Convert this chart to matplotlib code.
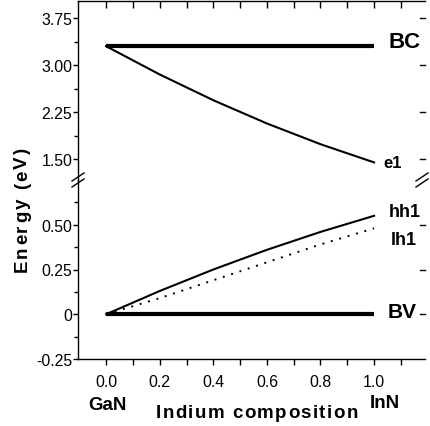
import matplotlib
matplotlib.use("Agg")
import matplotlib.pyplot as plt
from matplotlib.lines import Line2D
from matplotlib.ticker import FixedLocator, FixedFormatter
import numpy as np

plt.rcParams['font.family'] = ['Liberation Sans', 'DejaVu Sans']

# ---- data ----
x_comp = [0.0, 0.2, 0.4, 0.6, 0.8, 1.0]
bc = [3.30, 3.30, 3.30, 3.30, 3.30, 3.30]
e1 = [3.30, 2.85, 2.44, 2.07, 1.74, 1.45]
hh1 = [0.0, 0.13, 0.25, 0.36, 0.46, 0.55]
lh1 = [0.0, 0.09, 0.19, 0.29, 0.39, 0.48]
bv = [0.0, 0.0, 0.0, 0.0, 0.0, 0.0]

xticks = [0.0, 0.2, 0.4, 0.6, 0.8, 1.0]
xminor = [0.1, 0.3, 0.5, 0.7, 0.9, 1.1]
xticklabels = ['0.0', '0.2', '0.4', '0.6', '0.8', '1.0']
up_ticks = [1.50, 2.25, 3.00, 3.75]
up_labels = ['1.50', '2.25', '3.00', '3.75']
lo_ticks = [-0.25, 0.0, 0.25, 0.50]
lo_labels = ['-0.25', '0', '0.25', '0.50']

W, H = 430, 427
fig = plt.figure(figsize=(W / 100, H / 100), dpi=100)

def fx(px):
    return px / W

def fy(py):
    return 1 - py / H

L, R = 78, 425
T, M, B = 2, 181, 360
ax_up = fig.add_axes([fx(L), fy(M), fx(R) - fx(L), fy(T) - fy(M)])
ax_lo = fig.add_axes([fx(L), fy(B), fx(R) - fx(L), fy(M) - fy(B)])

for ax in (ax_up, ax_lo):
    ax.set_xlim(-0.105, 1.19)
    ax.spines['right'].set_visible(False)
    for s in ax.spines.values():
        s.set_linewidth(1.0)
    ax.xaxis.set_major_locator(FixedLocator(xticks))
    ax.xaxis.set_minor_locator(FixedLocator(xminor))
    ax.tick_params(axis='y', which='major', direction='out', length=3.6, width=1.0,
                   pad=0.5, labelsize=11.4)
    ax.tick_params(axis='y', which='minor', direction='out', length=3.0, width=1.0)
    ax.tick_params(axis='y', which='both', right=False)
    ax.set_facecolor('none')

ax_up.spines['bottom'].set_visible(False)
ax_lo.spines['top'].set_visible(False)

ax_up.set_ylim(1.17, 4.02)
ax_lo.set_ylim(-0.25, 0.75)

ax_up.yaxis.set_major_locator(FixedLocator(up_ticks))
ax_up.yaxis.set_major_formatter(FixedFormatter(up_labels))
ax_up.yaxis.set_minor_locator(FixedLocator([1.875, 2.625, 3.375]))
ax_lo.yaxis.set_major_locator(FixedLocator(lo_ticks))
ax_lo.yaxis.set_major_formatter(FixedFormatter(lo_labels))
ax_lo.yaxis.set_minor_locator(FixedLocator([-0.125, 0.125, 0.375, 0.625]))

ax_up.tick_params(axis='x', which='both', bottom=False, labelbottom=False,
                  top=True, direction='in', length=5, width=1.0)
ax_lo.tick_params(axis='x', which='both', top=False, bottom=True,
                  direction='out', length=4.5, width=1.0, labelsize=11.4, pad=6)
ax_lo.set_xticklabels(xticklabels)

# right-side inward ticks at major positions
for ax, ticks in ((ax_up, up_ticks), (ax_lo, lo_ticks[1:])):
    for t in ticks:
        ax.plot([1.0, 0.985], [t, t], color='black', lw=1.0,
                transform=ax.get_yaxis_transform(), clip_on=False)

# curves
ax_up.plot(x_comp, bc, color='black', lw=3.0, solid_capstyle='butt')
ax_up.plot(x_comp, e1, color='black', lw=1.5)
ax_lo.plot(x_comp, hh1, color='black', lw=1.5)
ax_lo.plot(x_comp, lh1, color='black', lw=1.4, linestyle=(0, (1, 3.5)))
ax_lo.plot(x_comp, bv, color='black', lw=3.0, solid_capstyle='butt')

# break marks
def brk(xc, yc):
    for dy in (-3, 3):
        fig.add_artist(Line2D([fx(xc - 6), fx(xc + 6)], [fy(yc + dy + 4), fy(yc + dy - 4)],
                              color='black', lw=1.0, transform=fig.transFigure))
brk(L, M)
brk(R - 3, M)

# annotations
fig.text(fx(388), fy(48), 'BC', fontsize=16, fontweight='bold', ha='left', va='baseline')
fig.text(fx(383), fy(168), 'e1', fontsize=12, fontweight='bold', ha='left', va='baseline')
fig.text(fx(389), fy(217), 'hh1', fontsize=13, fontweight='bold', ha='left', va='baseline',
         family=['Liberation Sans Narrow', 'Liberation Sans'])
fig.text(fx(391), fy(245), 'lh1', fontsize=13, fontweight='bold', ha='left', va='baseline',
         family=['Liberation Sans Narrow', 'Liberation Sans'])
fig.text(fx(388), fy(318), 'BV', fontsize=15, fontweight='bold', ha='left', va='baseline')
fig.text(fx(107), fy(410), 'GaN', fontsize=13.5, fontweight='bold', ha='center', va='baseline')
fig.text(fx(385), fy(408), 'InN', fontsize=13.5, fontweight='bold', ha='center', va='baseline')

renderer = fig.canvas.get_renderer()

def spaced(s, x0, y0, size, spacing, vertical=False):
    em = size * 100 / 72
    pos = 0.0
    for ch in s:
        if ch == ' ':
            pos += 0.28 * em + spacing
            continue
        if vertical:
            t = fig.text(fx(x0), fy(y0 - pos), ch, fontsize=size, fontweight='bold',
                         rotation=90, rotation_mode='anchor', ha='left', va='baseline')
        else:
            t = fig.text(fx(x0 + pos), fy(y0), ch, fontsize=size, fontweight='bold',
                         ha='left', va='baseline')
        ext = t.get_window_extent(renderer)
        w = ext.height if vertical else ext.width
        pos += w + spacing

spaced('Indium composition', 156, 418, 13.5, 1.4)
spaced('Energy (eV)', 27, 272, 13.5, 2.0, vertical=True)

fig.savefig('out.png', dpi=100)
